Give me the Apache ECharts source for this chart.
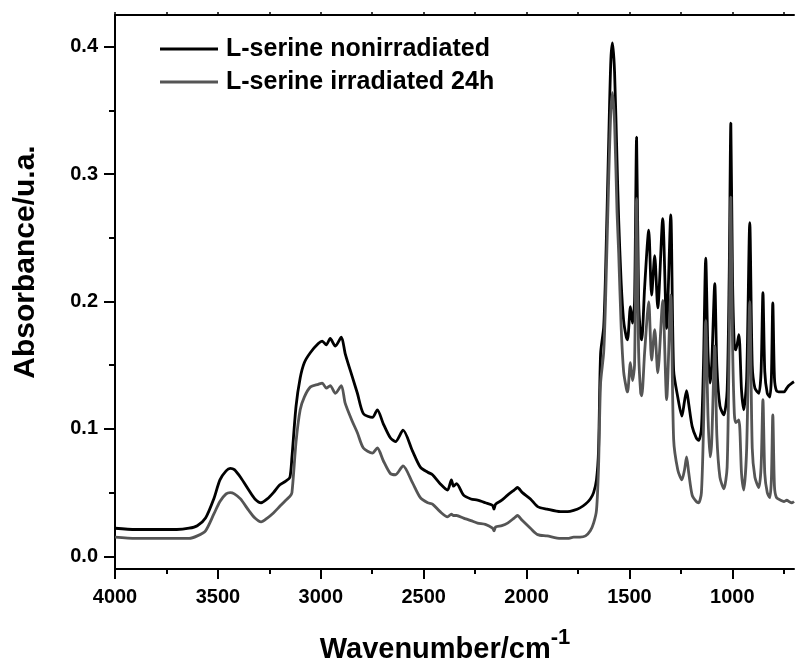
<!DOCTYPE html>
<html>
<head>
<meta charset="utf-8">
<script src="https://cdn.jsdelivr.net/npm/echarts@6/dist/echarts.min.js"></script>
<style>
html,body{margin:0;padding:0;background:#fff;}
#chart{width:795px;height:666px;}
</style>
</head>
<body>
<div id="chart"></div>
<script>
// Wavenumber grid (cm^-1) shared by both spectra
const wavenumbers = [4000,3900,3800,3700,3640,3600,3560,3520,3490,3460,3440,3420,3390,3350,3320,3290,3260,3230,3200,3170,3150,3140,3120,3100,3080,3050,3012,2993,2973,2954,2929,2900,2881,2847,2822,2793,2749,2725,2696,2662,2637,2600,2555,2516,2480,2457,2420,2384,2365,2355,2340,2306,2270,2238,2200,2165,2158,2150,2120,2092,2060,2044,2020,1981,1946,1900,1835,1800,1771,1740,1713,1690,1674,1660,1650,1640,1625,1616,1600,1590,1582,1572,1560,1552,1540,1528,1515,1509,1495,1485,1475,1465,1455,1445,1440,1426,1406,1392,1377,1362,1338,1319,1299,1285,1265,1245,1232,1222,1212,1195,1175,1163,1150,1140,1129,1118,1108,1100,1085,1075,1060,1041,1025,1015,1007,999,990,983,968,955,944,930,915,903,890,871,860,851,842,830,818,810,803,795,785,765,749,735,725,710,700];
const nonirradiated = [0.022,0.021,0.021,0.021,0.022,0.024,0.030,0.045,0.060,0.067,0.069,0.068,0.062,0.052,0.045,0.042,0.045,0.050,0.056,0.059,0.062,0.078,0.118,0.140,0.152,0.160,0.167,0.169,0.166,0.171,0.165,0.172,0.159,0.141,0.128,0.112,0.109,0.115,0.104,0.093,0.090,0.099,0.083,0.070,0.066,0.064,0.057,0.052,0.060,0.055,0.057,0.048,0.045,0.044,0.042,0.040,0.037,0.041,0.044,0.048,0.052,0.054,0.050,0.045,0.039,0.037,0.035,0.035,0.036,0.038,0.041,0.045,0.050,0.060,0.083,0.159,0.180,0.222,0.330,0.390,0.403,0.380,0.310,0.264,0.215,0.185,0.172,0.170,0.196,0.183,0.200,0.329,0.200,0.172,0.170,0.211,0.256,0.205,0.236,0.195,0.265,0.179,0.268,0.146,0.125,0.110,0.122,0.130,0.120,0.102,0.093,0.091,0.100,0.150,0.234,0.160,0.136,0.150,0.214,0.150,0.118,0.111,0.130,0.220,0.340,0.220,0.165,0.162,0.174,0.130,0.115,0.140,0.262,0.150,0.132,0.128,0.145,0.207,0.145,0.128,0.125,0.140,0.199,0.140,0.130,0.129,0.129,0.132,0.134,0.136,0.137];
const irradiated24h = [0.015,0.014,0.014,0.014,0.014,0.016,0.020,0.033,0.043,0.049,0.050,0.049,0.045,0.036,0.030,0.027,0.030,0.034,0.039,0.044,0.047,0.050,0.090,0.115,0.125,0.133,0.135,0.136,0.132,0.134,0.128,0.134,0.120,0.106,0.097,0.085,0.081,0.085,0.075,0.065,0.064,0.071,0.058,0.046,0.042,0.041,0.035,0.031,0.033,0.032,0.032,0.030,0.028,0.026,0.025,0.022,0.020,0.023,0.024,0.026,0.030,0.032,0.028,0.022,0.017,0.016,0.014,0.014,0.015,0.015,0.016,0.020,0.026,0.036,0.070,0.136,0.160,0.200,0.300,0.350,0.364,0.340,0.270,0.238,0.180,0.145,0.132,0.129,0.152,0.138,0.150,0.281,0.160,0.128,0.126,0.160,0.200,0.154,0.178,0.144,0.201,0.123,0.205,0.092,0.068,0.060,0.068,0.078,0.066,0.048,0.043,0.042,0.050,0.100,0.185,0.110,0.078,0.090,0.165,0.095,0.062,0.053,0.070,0.170,0.282,0.170,0.112,0.105,0.107,0.065,0.052,0.085,0.200,0.085,0.062,0.054,0.070,0.123,0.065,0.050,0.046,0.060,0.111,0.055,0.046,0.044,0.043,0.044,0.043,0.042,0.043];
const seriesNames = ['L-serine nonirradiated','L-serine irradiated 24h'];
const xMajorTicks = [4000,3500,3000,2500,2000,1500,1000];
const xMinorTicks = [3750,3250,2750,2250,1750,1250,750];
const xTopTicks = [4000,3750,3500,3250,3000,2750,2500,2250,2000,1750,1500,1250,1000,750];
const yMajorTicks = [0,0.1,0.2,0.3,0.4];
const yMinorTicks = [0.05,0.15,0.25,0.35];

const FONT = '"Liberation Sans", Arial, sans-serif';
const zip = (xs, ys) => xs.map((x, i) => [x, ys[i]]);
const gridRect = {left:115, right:1, top:15, bottom:97};
const X_MIN = 700, X_MAX = 4000, Y_MIN = -0.01, Y_MAX = 0.425;

const chart = echarts.init(document.getElementById('chart'), null, {renderer:'canvas'});
chart.setOption({
  backgroundColor:'#fff',
  animation:false,
  textStyle:{fontFamily:FONT},
  grid:[Object.assign({}, gridRect), Object.assign({}, gridRect)],
  legend:{
    data:seriesNames,
    orient:'vertical',
    left:155, top:31,
    icon:'rect', itemWidth:58, itemHeight:3, itemGap:7,
    textStyle:{fontFamily:FONT, fontSize:25, fontWeight:'bold', color:'#000', padding:[0,0,0,3], lineHeight:26}
  },
  xAxis:[
    {gridIndex:0, type:'value', position:'bottom', inverse:true, min:X_MIN, max:X_MAX,
     axisLine:{show:true, onZero:false, lineStyle:{color:'#000', width:2}},
     axisTick:{show:true, customValues:xMajorTicks, length:10, lineStyle:{color:'#000', width:2}},
     axisLabel:{customValues:xMajorTicks, formatter:(v)=>String(v), fontFamily:FONT, fontSize:20, fontWeight:'bold', color:'#000', margin:18},
     splitLine:{show:false}},
    {gridIndex:0, type:'value', position:'top', inverse:true, min:X_MIN, max:X_MAX,
     axisLine:{show:true, onZero:false, lineStyle:{color:'#000', width:2}},
     axisTick:{show:true, customValues:xTopTicks, length:3, lineStyle:{color:'#000', width:1.5}},
     axisLabel:{show:false}, splitLine:{show:false}},
    {gridIndex:1, type:'value', position:'bottom', inverse:true, min:X_MIN, max:X_MAX,
     axisLine:{show:false, onZero:false},
     axisTick:{show:true, customValues:xMinorTicks, length:5, lineStyle:{color:'#000', width:2}},
     axisLabel:{show:false}, splitLine:{show:false}}
  ],
  yAxis:[
    {gridIndex:0, type:'value', position:'left', min:Y_MIN, max:Y_MAX,
     axisLine:{show:true, onZero:false, lineStyle:{color:'#000', width:2}},
     axisTick:{show:true, customValues:yMajorTicks, length:11, lineStyle:{color:'#000', width:2}},
     axisLabel:{customValues:yMajorTicks, formatter:(v)=>v.toFixed(1), fontFamily:FONT, fontSize:20, fontWeight:'bold', color:'#000', margin:17},
     splitLine:{show:false}},
    {gridIndex:1, type:'value', position:'left', min:Y_MIN, max:Y_MAX,
     axisLine:{show:false, onZero:false},
     axisTick:{show:true, customValues:yMinorTicks, length:6, lineStyle:{color:'#000', width:2}},
     axisLabel:{show:false}, splitLine:{show:false}}
  ],
  graphic:[
    {type:'text', x:445, y:627, z:10,
     style:{text:'{a|Wavenumber/cm}{s|-1}', align:'center', verticalAlign:'top',
       rich:{a:{fontFamily:FONT, fontSize:29, fontWeight:'bold', fill:'#000'},
             s:{fontFamily:FONT, fontSize:22, fontWeight:'bold', fill:'#000', padding:[0,0,24,0]}}}},
    {type:'text', x:26, y:262, rotation:Math.PI/2, z:10,
     style:{text:'Absorbance/u.a.', fontFamily:FONT, fontSize:30, fontWeight:'bold', fill:'#000', align:'center', verticalAlign:'middle'}}
  ],
  series:[
    {name:seriesNames[0], type:'line', xAxisIndex:0, yAxisIndex:0, data:zip(wavenumbers, nonirradiated),
     showSymbol:false, smooth:0.25, lineStyle:{color:'#000', width:2.8}, itemStyle:{color:'#000'}},
    {name:seriesNames[1], type:'line', xAxisIndex:0, yAxisIndex:0, data:zip(wavenumbers, irradiated24h),
     showSymbol:false, smooth:0.25, lineStyle:{color:'#555', width:2.8}, itemStyle:{color:'#555'}}
  ]
});
</script>
</body>
</html>
